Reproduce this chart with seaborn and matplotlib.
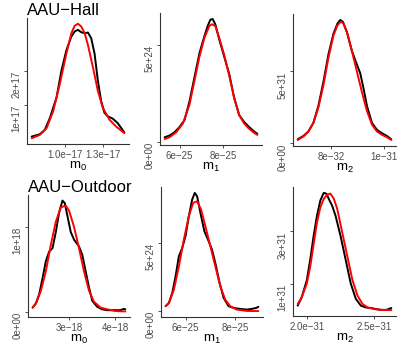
import numpy as np
import pandas as pd
import seaborn as sns
import matplotlib.pyplot as plt

# --- Density curves (black = empirical, red = fitted) ---
# AAU-Hall, m0  (x in 1e-17, density in 1e17)
hall_m0_emp_x = np.array([0.739, 0.804, 0.843, 0.883, 0.935, 0.974, 1.013, 1.052, 1.078, 1.104, 1.130,
                          1.157, 1.183, 1.209, 1.235, 1.261, 1.287, 1.313, 1.339, 1.378, 1.417, 1.470]) * 1e-17
hall_m0_emp_y = np.array([0.07, 0.14, 0.27, 0.62, 1.22, 2.02, 2.62, 3.02, 3.17, 3.22, 3.15,
                          3.12, 3.14, 2.97, 2.52, 1.72, 1.12, 0.77, 0.67, 0.60, 0.47, 0.19]) * 1e17
hall_m0_fit_x = np.array([0.739, 0.804, 0.857, 0.909, 0.961, 1.013, 1.052, 1.078, 1.104, 1.130,
                          1.157, 1.183, 1.222, 1.261, 1.300, 1.352, 1.404, 1.470]) * 1e-17
hall_m0_fit_y = np.array([0.02, 0.12, 0.32, 0.82, 1.62, 2.52, 3.12, 3.34, 3.40, 3.32,
                          3.12, 2.77, 2.12, 1.42, 0.92, 0.57, 0.37, 0.17]) * 1e17

# AAU-Hall, m1  (x in 1e-25, density in 1e24)
hall_m1_emp_x = np.array([5.318, 5.545, 5.773, 6.0, 6.227, 6.455, 6.682, 6.909, 7.136, 7.288, 7.409,
                          7.515, 7.636, 7.818, 8.045, 8.273, 8.5, 8.727, 8.955, 9.182, 9.409, 9.561]) * 1e-25
hall_m1_emp_y = np.array([0.23, 0.32, 0.49, 0.76, 1.11, 2.08, 3.32, 4.56, 5.44, 5.97, 6.29,
                          6.33, 6.06, 5.27, 4.38, 3.50, 2.26, 1.38, 1.02, 0.76, 0.53, 0.41]) * 1e24
hall_m1_fit_x = np.array([5.318, 5.545, 5.848, 6.152, 6.455, 6.682, 6.909, 7.136, 7.364, 7.485,
                          7.636, 7.818, 8.045, 8.273, 8.5, 8.727, 8.955, 9.182, 9.409, 9.561]) * 1e-25
hall_m1_fit_y = np.array([0.14, 0.23, 0.49, 0.94, 1.91, 3.14, 4.38, 5.35, 5.97, 6.06,
                          5.97, 5.35, 4.47, 3.41, 2.26, 1.38, 0.94, 0.67, 0.46, 0.35]) * 1e24

# AAU-Hall, m2  (x in 1e-32, density in 1e31)
hall_m2_emp_x = np.array([6.742, 6.956, 7.145, 7.333, 7.522, 7.711, 7.899, 8.088, 8.239, 8.340, 8.440,
                          8.591, 8.780, 8.969, 9.094, 9.220, 9.346, 9.535, 9.723, 9.912, 10.101, 10.264]) * 1e-32
hall_m2_emp_y = np.array([0.29, 0.52, 0.83, 1.43, 2.62, 4.29, 6.19, 7.62, 8.33, 8.57, 8.45,
                          7.74, 6.43, 5.48, 4.88, 3.81, 2.62, 1.43, 0.95, 0.71, 0.52, 0.29]) * 1e31
hall_m2_fit_x = np.array([6.742, 6.956, 7.145, 7.333, 7.522, 7.711, 7.899, 8.088, 8.239, 8.365, 8.465,
                          8.616, 8.780, 8.969, 9.157, 9.346, 9.535, 9.723, 9.912, 10.101, 10.264]) * 1e-32
hall_m2_fit_y = np.array([0.24, 0.48, 0.83, 1.43, 2.50, 4.05, 5.95, 7.50, 8.21, 8.45, 8.33,
                          7.62, 6.43, 5.00, 3.57, 2.26, 1.31, 0.83, 0.60, 0.43, 0.24]) * 1e31

# AAU-Outdoor, m0  (x in 1e-18, density in 1e18)
out_m0_emp_x = np.array([2.214, 2.286, 2.357, 2.429, 2.5, 2.571, 2.643, 2.714, 2.786, 2.857, 2.907, 2.964,
                         3.036, 3.107, 3.214, 3.286, 3.357, 3.429, 3.5, 3.607, 3.714, 3.821, 3.929,
                         4.036, 4.107, 4.18, 4.214]) * 1e-18
out_m0_emp_y = np.array([0.05, 0.10, 0.21, 0.40, 0.60, 0.71, 0.75, 0.94, 1.17, 1.31, 1.28, 1.13,
                         0.94, 0.85, 0.77, 0.67, 0.48, 0.29, 0.13, 0.06, 0.03, 0.02, 0.02,
                         0.02, 0.02, 0.035, 0.03]) * 1e18
out_m0_fit_x = np.array([2.214, 2.286, 2.393, 2.5, 2.607, 2.714, 2.821, 2.929, 3.0, 3.107,
                         3.214, 3.321, 3.429, 3.536, 3.679, 3.821, 4.0, 4.214]) * 1e-18
out_m0_fit_y = np.array([0.05, 0.10, 0.25, 0.48, 0.79, 1.06, 1.23, 1.25, 1.19, 1.00,
                         0.75, 0.48, 0.25, 0.12, 0.05, 0.03, 0.01, 0.005]) * 1e18

# AAU-Outdoor, m1  (x in 1e-25, density in 1e24)
out_m1_emp_x = np.array([5.2, 5.333, 5.467, 5.6, 5.733, 5.867, 6.0, 6.133, 6.267, 6.373, 6.467, 6.6, 6.76,
                         6.933, 7.067, 7.2, 7.373, 7.533, 7.733, 7.933, 8.2, 8.467, 8.667, 8.84, 8.933]) * 1e-25
out_m1_emp_y = np.array([0.37, 0.61, 1.34, 2.56, 4.02, 4.63, 5.49, 6.95, 8.17, 8.66, 8.41, 7.20, 5.85,
                         5.12, 4.51, 3.54, 2.07, 0.98, 0.37, 0.24, 0.17, 0.12, 0.17, 0.24, 0.32]) * 1e24
out_m1_fit_x = np.array([5.2, 5.333, 5.533, 5.733, 5.933, 6.133, 6.307, 6.467, 6.627, 6.8,
                         7.0, 7.2, 7.4, 7.6, 7.8, 8.067, 8.467, 8.933]) * 1e-25
out_m1_fit_y = np.array([0.37, 0.61, 1.59, 3.29, 5.24, 6.95, 7.93, 8.05, 7.44, 6.22,
                         4.76, 3.29, 1.83, 0.85, 0.37, 0.12, 0.02, 0.01]) * 1e24

# AAU-Outdoor, m2  (x in 1e-31, density in 1e31)
out_m2_emp_x = np.array([1.9325, 1.9625, 2.0, 2.025, 2.05, 2.075, 2.1, 2.125, 2.145, 2.1625, 2.1875, 2.2125,
                         2.25, 2.2875, 2.325, 2.3625, 2.4, 2.4375, 2.475, 2.5125, 2.55, 2.5875, 2.625]) * 1e-31
out_m2_emp_y = np.array([0.17, 0.49, 1.14, 1.91, 2.81, 3.59, 4.17, 4.46, 4.43, 4.23, 3.97, 3.59,
                         2.81, 1.91, 1.01, 0.43, 0.17, 0.10, 0.08, 0.04, 0.01, 0.01, 0.08]) * 1e31
out_m2_fit_x = np.array([1.9325, 1.9625, 2.0, 2.025, 2.05, 2.075, 2.1, 2.125, 2.15, 2.175, 2.2,
                         2.225, 2.2625, 2.3, 2.3375, 2.375, 2.4125, 2.45, 2.5, 2.55, 2.625]) * 1e-31
out_m2_fit_y = np.array([0.23, 0.49, 1.01, 1.65, 2.49, 3.33, 3.91, 4.23, 4.39, 4.43, 4.23,
                         3.85, 2.94, 2.04, 1.14, 0.55, 0.23, 0.10, 0.04, 0.01, 0.0]) * 1e31

# tick positions and labels
hall_m0_xticks, hall_m0_xlabels = [1.0e-17, 1.3e-17], ['1.0e\u221217', '1.3e\u221217']
hall_m0_yticks, hall_m0_ylabels = [1e17, 2e17], ['1e+17', '2e+17']
hall_m1_xticks, hall_m1_xlabels = [6e-25, 8e-25], ['6e\u221225', '8e\u221225']
hall_m1_yticks, hall_m1_ylabels = [0, 5e24], ['0e+00', '5e+24']
hall_m2_xticks, hall_m2_xlabels = [8e-32, 1e-31], ['8e\u221232', '1e\u221231']
hall_m2_yticks, hall_m2_ylabels = [0, 5e31], ['0e+00', '5e+31']
out_m0_xticks, out_m0_xlabels = [3e-18, 4e-18], ['3e\u221218', '4e\u221218']
out_m0_yticks, out_m0_ylabels = [0, 1e18], ['0e+00', '1e+18']
out_m1_xticks, out_m1_xlabels = [6e-25, 8e-25], ['6e\u221225', '8e\u221225']
out_m1_yticks, out_m1_ylabels = [0, 5e24], ['0e+00', '5e+24']
out_m2_xticks, out_m2_xlabels = [2.0e-31, 2.5e-31], ['2.0e\u221231', '2.5e\u221231']
out_m2_yticks, out_m2_ylabels = [1e31, 3e31], ['1e+31', '3e+31']

sns.set_theme(style='ticks')
plt.rcParams['font.family'] = ['Liberation Sans', 'DejaVu Sans']
plt.rcParams['mathtext.fontset'] = 'custom'
plt.rcParams['mathtext.rm'] = 'Liberation Sans'
plt.rcParams['text.color'] = 'black'
plt.rcParams['axes.labelcolor'] = 'black'

W, H = 399, 347
fig = plt.figure(figsize=(W / 100, H / 100), dpi=100)


def panel(rect, emp_x, emp_y, fit_x, fit_y, xticks, xlabels, yticks, ylabels, xlabel, title=None):
    left, top, right, bottom = rect
    ax = fig.add_axes([left / W, 1 - bottom / H, (right - left) / W, (bottom - top) / H])
    df = pd.concat([
        pd.DataFrame({'x': emp_x, 'density': emp_y, 'curve': 'empirical'}),
        pd.DataFrame({'x': fit_x, 'density': fit_y, 'curve': 'fitted'}),
    ], ignore_index=True)
    sns.lineplot(data=df, x='x', y='density', hue='curve', estimator=None,
                 palette={'empirical': 'black', 'fitted': '#FF0000'},
                 linewidth=1.4, legend=False, ax=ax)
    xlim, ylim = ax.get_xlim(), ax.get_ylim()
    ax.set_xticks(xticks, xlabels)
    ax.set_yticks(yticks, ylabels)
    ax.set_xlim(xlim)
    ax.set_ylim(ylim)
    ax.tick_params(length=2.5, width=0.6, color='#333333', labelsize=7,
                   labelcolor='#4D4D4D', pad=1.5)
    for lab in ax.get_yticklabels():
        lab.set_rotation(90)
        lab.set_va('top')
    for s in ['left', 'bottom']:
        ax.spines[s].set_color('#333333')
        ax.spines[s].set_linewidth(0.8)
    sns.despine(ax=ax)
    ax.set_xlabel(xlabel, fontsize=9.5, labelpad=0, color='black')
    ax.set_ylabel('')
    if title:
        ax.set_title(title, loc='left', fontsize=12, pad=2, color='black')
    return ax


panel((27, 18, 129, 144), hall_m0_emp_x, hall_m0_emp_y, hall_m0_fit_x, hall_m0_fit_y,
      hall_m0_xticks, hall_m0_xlabels, hall_m0_yticks, hall_m0_ylabels,
      r'$\mathregular{m_0}$', 'AAU\u2212Hall')
panel((160, 13, 262, 145), hall_m1_emp_x, hall_m1_emp_y, hall_m1_fit_x, hall_m1_fit_y,
      hall_m1_xticks, hall_m1_xlabels, hall_m1_yticks, hall_m1_ylabels, r'$\mathregular{m_1}$')
panel((293, 14, 396, 146), hall_m2_emp_x, hall_m2_emp_y, hall_m2_fit_x, hall_m2_fit_y,
      hall_m2_xticks, hall_m2_xlabels, hall_m2_yticks, hall_m2_ylabels, r'$\mathregular{m_2}$')
panel((28, 195, 130, 317), out_m0_emp_x, out_m0_emp_y, out_m0_fit_x, out_m0_fit_y,
      out_m0_xticks, out_m0_xlabels, out_m0_yticks, out_m0_ylabels,
      r'$\mathregular{m_0}$', 'AAU\u2212Outdoor')
panel((161, 187, 263, 317), out_m1_emp_x, out_m1_emp_y, out_m1_fit_x, out_m1_fit_y,
      out_m1_xticks, out_m1_xlabels, out_m1_yticks, out_m1_ylabels, r'$\mathregular{m_1}$')
panel((293, 187, 396, 316), out_m2_emp_x, out_m2_emp_y, out_m2_fit_x, out_m2_fit_y,
      out_m2_xticks, out_m2_xlabels, out_m2_yticks, out_m2_ylabels, r'$\mathregular{m_2}$')

fig.savefig('out.png', dpi=100)
